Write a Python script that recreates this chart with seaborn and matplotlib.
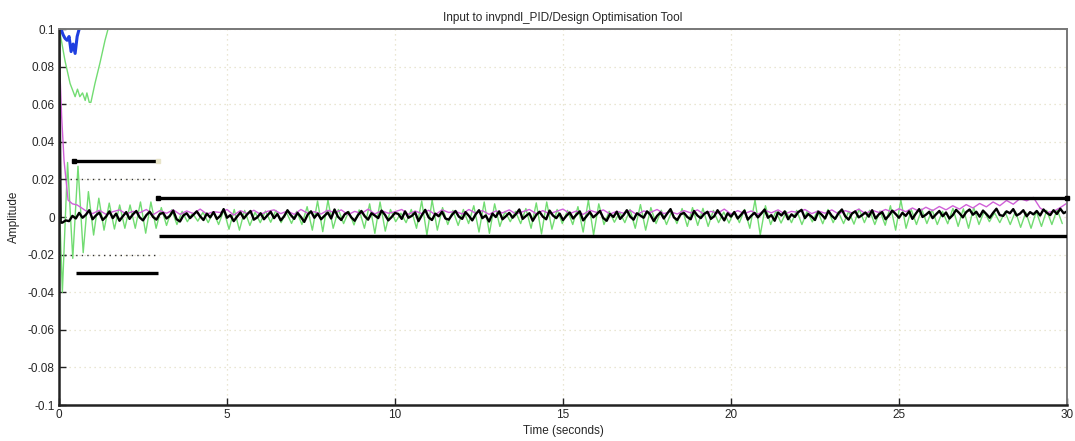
import numpy as np
import pandas as pd
import matplotlib
matplotlib.use("Agg")
import matplotlib.pyplot as plt
from matplotlib.ticker import FuncFormatter
import seaborn as sns

# ---------------------------------------------------------------- data
SCALE = 1e-3  # series below are written in units of 1e-3

# oscillating (green) response: one extreme every half period
green_osc_t0 = 0.1
green_osc_dt = 0.155
green_osc = [
    -40, 29, -22, 27, -19, 13.5, -9.6, 10, -7, 7.4, -6.4, 6.4, -6, 6.4, -6, 8, -8.6, 8, -6, 5,
    -4.5, 3.8, -4, 3, -2.5, 2, -2.2, 2.5, -3, 2.8,
    -4, 3.5, -6.5, 4, -7, 3.5, -4.5, 2.5, -3, 3.2,
    -2.8, 3.5, -3, 2.6, -3.4, 3, -4, 5.5, -7, 8.5,
    -7.8, 9, -6, 4, -3.5, 3, -4.2, 3.8, -6, 7,
    -8.7, 8, -7.5, 4, -2.5, 2, -3, 4, -6, 8.5,
    -9.6, 9, -7, 5, -4, 3.5, -4.5, 4, -3.5, 6,
    -8, 8, -8.7, 7, -5, 3, -2.5, 3, -3.5, 4.5,
    -6, 7.5, -9, 8, -6.5, 4, -3.5, 3.5, -4, 5.5,
    -8, 9, -9.5, 7, -4, 3, -2.8, 2.6, -3, 4,
    -6, 6.6, -7, 5, -3.5, 3.6, -4, 3, -3.5, 4.5,
    -5, 5, -4.5, 4.6, -5, 3.5, -3, 2.6, -3.2, 3,
    -3, 4, -6, 9, -9.6, 6, -4, 3, -3.2, 2.8,
    -3, 3.5, -4, 3, -2.6, 3.4, -3.6, 4, -3, 2.8,
    -3.5, 3, -3.8, 4.2, -3, 3.6, -4, 3.2, -4.4, 6,
    -7, 9, -6, 4, -4, 4.2, -3.5, 3.8, -4, 3,
    -3.6, 4.6, -5, 4.4, -6, 5, -4, 3, -2.5, 2.2,
    -3, 2.8, -4, 3, -5.5, 2.5, -6, 3, -5, 3.5,
    -4, 4, -3.5,
]
green_osc_start = 14

# slow (green) response leaving the window at the top
green_slow_t = [0.0, 0.09, 0.18, 0.33, 0.48, 0.55, 0.62, 0.70, 0.78, 0.83, 0.90,
                0.95, 1.07, 1.22, 1.37, 1.46, 1.60]
green_slow = [101, 92, 83, 71, 64, 68, 64, 66, 62, 66, 61, 61, 71, 82, 94, 100, 115]

# blue response near the upper limit
blue_t = [0.0, 0.06, 0.12, 0.18, 0.24, 0.30, 0.36, 0.42, 0.48, 0.54, 0.60, 0.65]
blue = [102, 100, 97, 95, 94, 96, 88, 92, 87, 96, 100, 103]

# black (current) response, sampled every 0.1 s after the initial drop
black_head_t = [0.0, 0.05]
black_head = [110, -3]
black_dt = 0.1
black = [
    -3.0, -1.8, -2.2, 0.6, -0.8, 2.2, -0.4, 1.2, 3.6, -1.2,
    0.8, 2.4, -1.6, 0.2, 3.0, -0.6, 1.8, -2.0, 0.4, 2.6,
    -1.0, 1.4, 3.2, -0.2, -1.8, 1.0, 2.8, 0.0, -1.4, 1.6,
    2.2, -0.8, 0.6, 3.4, -1.2, -2.4, 0.8, 2.0, -0.6, 1.2,
    3.0, 0.4, -1.6, 1.8, -0.2, 2.6, -1.0, 0.6, 4.2, -0.4,
    1.0, -2.2, 0.2, 2.4, -0.8, 1.4, 3.2, -1.4, -0.2, 2.0,
    -1.2, 0.8, 2.8, -0.6, 1.6, -1.8, 0.4, 3.6, 1.0, -1.0,
    2.2, 0.0, -2.6, 1.2, 3.0, -0.4, 1.8, -1.2, 0.6, 2.4,
    -0.8, 4.0, 0.2, -1.6, 1.4, 2.6, -0.2, -2.0, 1.0, 3.2,
    0.4, -1.4, 2.0, 0.8, -0.6, 3.4, 1.2, -1.8, 0.0, 2.2,
    1.6, -1.0, 3.0, -0.4, 0.6, 2.4, -2.2, 1.0, 3.8, -0.2,
    -1.6, 1.8, 0.4, 2.8, -0.8, -1.4, 1.2, 3.2, 0.2, -1.0,
    2.6, 0.6, -1.8, 1.4, 3.6, -0.6, 0.8, -2.4, 1.8, 0.0,
    3.0, -1.2, 0.4, 2.2, -0.4, 1.6, 4.0, -1.0, 0.6, 2.0,
    -2.0, 1.0, 2.8, 0.2, -1.2, 3.4, 0.8, -0.6, 1.8, -1.6,
    0.6, 2.4, -0.8, 1.2, 3.0, -1.8, 0.4, 2.6, -0.2, 1.4,
    3.2, -0.6, -2.0, 1.6, 0.0, 2.8, -1.0, 1.0, 3.6, 0.2,
    -1.4, 2.0, 0.8, -0.4, 3.0, 1.2, -2.2, 0.6, 2.4, -0.8,
    1.8, 4.2, -0.2, -1.6, 1.4, 2.2, 0.0, -1.2, 3.2, 0.8,
    -0.6, 1.6, 2.8, -1.0, 0.4, 3.6, 1.0, -1.8, 2.0, 0.2,
    2.6, -0.8, 1.2, 3.4, -1.4, 0.6, 2.2, -0.2, 1.8, 4.0,
    -0.4, 1.0, -2.0, 2.4, 0.8, 3.0, -1.2, 1.4, 0.0, 2.6,
    3.8, -0.6, 1.6, 0.2, -1.6, 2.8, 1.2, -0.8, 3.2, 0.6,
    -1.0, 2.0, 4.0, 0.4, -1.4, 1.8, 3.0, -0.2, 1.0, 2.4,
    0.2, 3.6, -0.8, 1.4, 2.6, -1.2, 0.8, 3.4, 1.6, -0.4,
    2.2, 0.6, 3.0, -1.0, 1.8, 4.2, 0.0, 1.2, 2.8, -0.6,
    1.4, 3.2, 0.4, 2.4, -0.8, 1.0, 3.8, 2.0, -0.2, 2.6,
    4.0, 1.2, 2.8, 0.2, 3.4, 1.6, -0.4, 2.2, 4.4, 1.0,
    0.6, 3.0, 2.0, 4.2, 0.8, 1.8, 3.6, 0.4, 2.6, 1.4,
    3.2, 0.8, 4.0, 2.2, 1.0, 3.6, 1.6, 4.4, 2.0, 3.0,
]

# magenta response: decay, then sampled every 0.2 s from t = 0.8
magenta_head_t = [0.0, 0.08, 0.15, 0.27, 0.40, 0.54, 0.66]
magenta_head = [90, 53, 30, 9, 7, 6.4, 5]
magenta_t0 = 0.8
magenta_dt = 0.2
magenta = [
    3.3, 1.8, 3.6, 1.4, 2.8, 3.8, 1.6, 3.0, 2.2, 4.0,
    1.2, 3.4, 2.0, 3.8, 1.4, 3.2, 1.8, 4.2, 1.6, 2.8,
    2.4, 4.0, 1.0, 3.4, 1.8, 3.6, 1.4, 3.0, 3.8, 1.8,
    3.2, 1.4, 4.0, 2.0, 2.8, 1.6, 3.6, 2.2, 3.8, 1.2,
    3.0, 1.8, 4.2, 1.6, 3.4, 2.0, 2.8, 4.0, 1.4, 3.2,
    1.8, 3.6, 1.2, 3.8, 2.4, 3.0, 1.6, 4.0, 2.0, 3.4,
    1.4, 3.2, 2.2, 3.8, 1.6, 2.8, 4.0, 1.8, 3.4, 1.6,
    3.0, 4.2, 1.8, 3.2, 1.4, 3.6, 2.4, 3.8, 1.6, 3.0,
    2.0, 3.6, 1.2, 3.2, 2.4, 4.0, 1.8, 2.8, 1.6, 3.4,
    2.2, 3.8, 1.4, 3.0, 2.0, 4.2, 1.6, 3.4, 1.8, 3.2,
    1.4, 3.6, 2.2, 3.8, 1.6, 3.0, 2.4, 4.0, 1.8, 3.2,
    2.0, 3.8, 1.6, 3.4, 2.2, 4.2, 1.8, 3.6, 2.4, 4.0,
    2.6, 4.4, 2.8, 4.8, 3.0, 5.2, 3.4, 5.6, 3.8, 6.0,
    4.2, 6.6, 4.8, 7.2, 5.4, 8.0, 6.0, 8.8, 6.8, 9.8,
    8.6, 10.4, 4.8, 2.4, 3.0, 5.0, 7.4,
]

# constraint bounds: (level, t_start, t_end)
upper_bounds = [(0.03, 0.45, 2.95), (0.01, 2.95, 30.0)]
lower_bounds = [(-0.03, 0.50, 2.95), (-0.01, 2.98, 30.0)]
# dotted reference levels over the first segment
ref_levels = [0.02, -0.02]
ref_span = (0.0, 2.95)

x_ticks = [0, 5, 10, 15, 20, 25, 30]
y_ticks = [-0.1, -0.08, -0.06, -0.04, -0.02, 0, 0.02, 0.04, 0.06, 0.08, 0.1]

title = "Input to invpndl_PID/Design Optimisation Tool"
x_label = "Time (seconds)"
y_label = "Amplitude"

# ---------------------------------------------------------------- frames
def frame(t, v):
    return pd.DataFrame({"t": np.asarray(t, float), "v": np.asarray(v, float) * SCALE})

g_osc_t = np.concatenate([[0.0], green_osc_t0 + green_osc_dt * np.arange(len(green_osc))])
df_green_osc = frame(g_osc_t, [green_osc_start] + green_osc)
df_green_slow = frame(green_slow_t, green_slow)
df_blue = frame(blue_t, blue)
blk_t = np.concatenate([black_head_t, black_dt * np.arange(1, len(black) + 1)])
df_black = frame(blk_t, black_head + black)
mag_t = np.concatenate([magenta_head_t, magenta_t0 + magenta_dt * np.arange(len(magenta))])
df_magenta = frame(mag_t, magenta_head + magenta)

# ---------------------------------------------------------------- style
sns.set_theme(style="white")
plt.rcParams["font.family"] = ["Liberation Sans", "DejaVu Sans"]
plt.rcParams["axes.unicode_minus"] = False

fig = plt.figure(figsize=(10.75, 4.41), dpi=100)
ax = fig.add_axes([59 / 1075, 1 - 405 / 441, (1067 - 59) / 1075, (405 - 29) / 441])

GREEN = "#72dc72"
BLUE = "#1f3fe0"
MAGENTA = "#d060d8"

line_kw = dict(ax=ax, x="t", y="v", estimator=None, sort=False, legend=False)
sns.lineplot(data=df_green_osc, color=GREEN, lw=1.0, **line_kw)
sns.lineplot(data=df_green_slow, color=GREEN, lw=1.0, **line_kw)
sns.lineplot(data=df_magenta, color=MAGENTA, lw=1.0, **line_kw)
sns.lineplot(data=df_black, color="black", lw=1.7, **line_kw)
sns.lineplot(data=df_blue, color=BLUE, lw=2.2, **line_kw)

# dotted reference levels
for lv in ref_levels:
    ax.hlines(lv, *ref_span, colors="#333333", lw=1.0, linestyles=(0, (1, 3)), zorder=3)

# constraint bounds
for lv, t0, t1 in upper_bounds:
    ax.plot([t0, t1], [lv, lv], color="black", lw=2.4, solid_capstyle="butt", zorder=5)
    ax.plot([t0], [lv], marker="s", ms=3.5, color="black", zorder=6)
ax.plot([upper_bounds[0][2]], [upper_bounds[0][0]], marker="s", ms=3.5,
        color="#e8e4c8", zorder=6)
ax.plot([upper_bounds[1][2]], [upper_bounds[1][0]], marker="s", ms=3.5,
        color="black", zorder=6, clip_on=False)
for lv, t0, t1 in lower_bounds:
    ax.plot([t0, t1], [lv, lv], color="black", lw=2.4, solid_capstyle="butt", zorder=5)

# axes, grid and ticks
ax.set_xlim(0, 30)
ax.set_ylim(-0.1, 0.1)
ax.set_xticks(x_ticks)
ax.set_yticks(y_ticks)
ax.yaxis.set_major_formatter(FuncFormatter(lambda v, _: "%g" % round(v, 3)))
ax.xaxis.set_major_formatter(FuncFormatter(lambda v, _: "%g" % v))
ax.grid(True, color="#e2dfc4", lw=0.9, linestyle=(0, (1, 3)))
ax.tick_params(direction="in", length=5, width=1.0, color="#222222",
               labelsize=8.5, pad=3, top=False, right=False, bottom=True, left=True)

for side in ("left", "bottom"):
    ax.spines[side].set_color("#222222")
    ax.spines[side].set_linewidth(1.8)
for side in ("top", "right"):
    ax.spines[side].set_color("#777777")
    ax.spines[side].set_linewidth(1.4)

ax.set_title(title, fontsize=8.5, pad=6)
ax.set_xlabel(x_label, fontsize=8.5, labelpad=3)
ax.set_ylabel(y_label, fontsize=8.5, labelpad=6)

fig.savefig("out.png", dpi=100)
